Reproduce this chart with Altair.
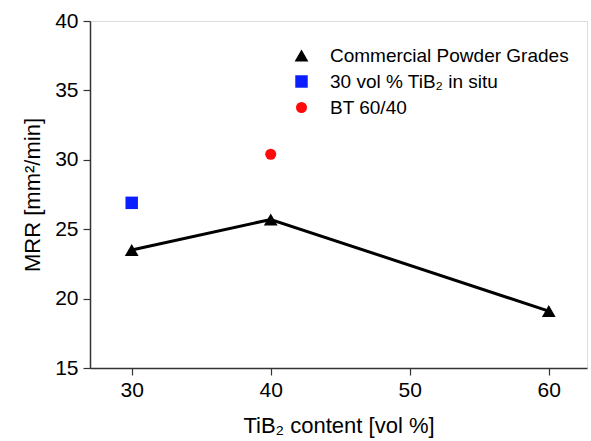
import altair as alt
import pandas as pd

series_names = ["Commercial Powder Grades", "30 vol % TiB\u2082 in situ", "BT 60/40"]

grade_x = [30, 40, 60]
grade_y = [23.5, 25.7, 19.1]
insitu_x = [30]
insitu_y = [26.9]
bt_x = [40]
bt_y = [30.4]

rows = []
for x, y in zip(grade_x, grade_y):
    rows.append({"x": x, "y": y, "series": series_names[0]})
for x, y in zip(insitu_x, insitu_y):
    rows.append({"x": x, "y": y, "series": series_names[1]})
for x, y in zip(bt_x, bt_y):
    rows.append({"x": x, "y": y, "series": series_names[2]})
df = pd.DataFrame(rows)

FONT = "Liberation Sans"

xscale = alt.Scale(domain=[27, 62.75], nice=False, zero=False)
yscale = alt.Scale(domain=[15, 40], nice=False, zero=False)

xaxis = alt.Axis(values=[30, 40, 50, 60], title="TiB\u2082 content [vol %]")
yaxis = alt.Axis(values=[15, 20, 25, 30, 35, 40], title="MRR [mm\u00b2/min]")

legend = alt.Legend(title=None, orient="none", legendX=202, legendY=25,
                    labelFont=FONT, labelFontSize=19, labelColor="black",
                    symbolSize=110, symbolStrokeWidth=0, rowPadding=6,
                    labelOffset=19, symbolOpacity=1, labelLimit=400)

line = alt.Chart(df[df["series"] == series_names[0]]).mark_line(
    color="black", strokeWidth=3
).encode(
    x=alt.X("x:Q", scale=xscale, axis=xaxis),
    y=alt.Y("y:Q", scale=yscale, axis=yaxis),
)

points = alt.Chart(df).mark_point(filled=True, opacity=1).encode(
    x=alt.X("x:Q", scale=xscale, axis=xaxis),
    y=alt.Y("y:Q", scale=yscale, axis=yaxis),
    shape=alt.Shape("series:N", sort=series_names,
                    scale=alt.Scale(domain=series_names, range=["triangle-up", "square", "circle"]),
                    legend=legend),
    color=alt.Color("series:N", sort=series_names,
                    scale=alt.Scale(domain=series_names, range=["black", "#0a1eff", "#ff0a0a"]),
                    legend=legend),
    size=alt.Size("series:N", sort=series_names,
                  scale=alt.Scale(domain=series_names, range=[190, 121, 110]),
                  legend=None),
)

chart = (line + points).properties(
    width=497, height=347,
    padding={"left": 90, "top": 21, "right": 4, "bottom": 73},
    autosize="none",
).configure_view(stroke="#333", strokeWidth=1.5).configure(background="white").configure_axis(
    grid=False, labelFontSize=21, titleFontSize=22, titleFontWeight="normal",
    labelFont=FONT, titleFont=FONT, tickSize=7, domainColor="#333",
    tickColor="#333", labelColor="black", titleColor="black",
    domainWidth=1.5, tickWidth=1.2
).configure_axisX(labelPadding=4, titlePadding=15).configure_axisY(labelPadding=5, titlePadding=10)

chart.save("out.html", embed_options={"renderer": "svg", "actions": False})
